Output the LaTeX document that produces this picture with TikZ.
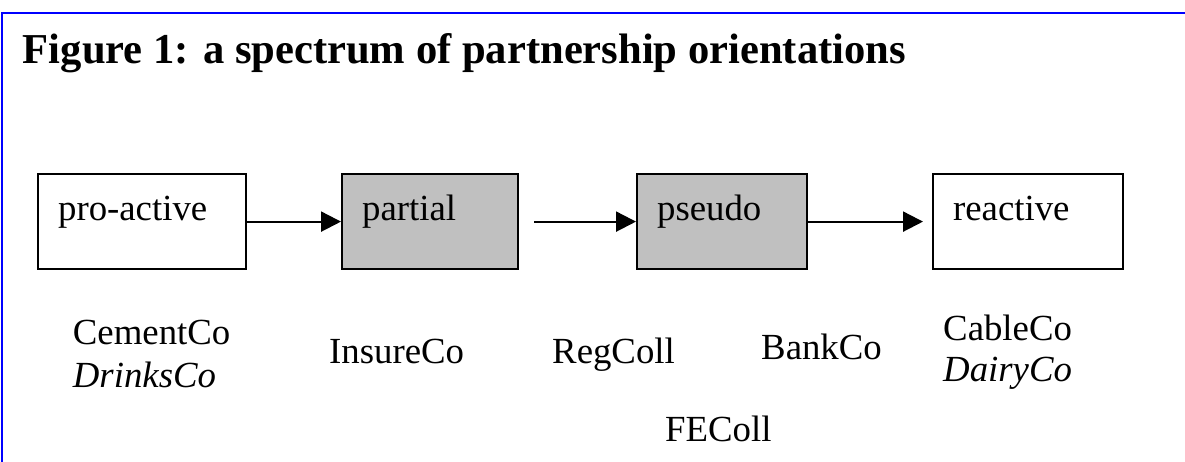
\documentclass[tikz,border=0pt]{standalone}
\usepackage{fontspec}
\setmainfont{Liberation Serif}
\usetikzlibrary{arrows.meta}
\definecolor{boxgray}{RGB}{192,192,192}
\definecolor{frameblue}{RGB}{0,0,255}
\tikzset{
  lbl/.style={inner sep=0pt, anchor=base west, font=\fontsize{36.8}{40}\selectfont},
  ilbl/.style={lbl, font=\fontsize{36.8}{40}\selectfont\itshape},
  stagebox/.style={draw=black, line width=2.2pt, anchor=north west, inner xsep=20pt, inner ysep=0pt,
     text height=46pt, text depth=49pt, align=left, font=\fontsize{36.8}{40}\selectfont},
  flow/.style={line width=2.2pt, -{Triangle[length=20pt,width=20pt]}},
}
\begin{document}
\begin{tikzpicture}[x=1pt,y=-1pt]
\useasboundingbox (0,0) rectangle (1185,461);
% blue frame (left and top)
\coordinate (fbl) at (2,462);
\coordinate (ftl) at (2,13);
\coordinate (ftr) at (1186,13);
\draw[frameblue, line width=2.2pt] (fbl) -- (ftl) -- (ftr);
% title
\node[inner sep=0pt, anchor=base west, font=\fontsize{42.6}{46}\selectfont\bfseries] (title) at (22.7,63) {Figure 1: a spectrum of partnership orientations};
% boxes
\node[stagebox, text width=168pt] (pro) at (37,173) {pro-active};
\node[stagebox, fill=boxgray, text width=136pt] (par) at (341,173) {partial};
\node[stagebox, fill=boxgray, text width=130pt] (pse) at (636,173) {pseudo};
\node[stagebox, text width=150pt] (rea) at (932,173) {reactive};
% arrows
\draw[flow] (pro.east) -- (par.west);
\draw[flow] ([xshift=15pt]par.east) -- (pse.west);
\draw[flow] (pse.east) -- ([xshift=-9pt]rea.west);
% organisations
\node[lbl] (cement) at (72.7,344) {CementCo};
\node[ilbl] (drinks) at (72.7,387) {DrinksCo};
\node[lbl] (insure) at (329,363) {InsureCo};
\node[lbl] (regcoll) at (552,363) {RegColl};
\node[lbl] (bank) at (761,359) {BankCo};
\node[lbl] (cable) at (943,340) {CableCo};
\node[ilbl] (dairy) at (943,381) {DairyCo};
\node[lbl] (fecoll) at (665,441) {FEColl};
\end{tikzpicture}
\end{document}
